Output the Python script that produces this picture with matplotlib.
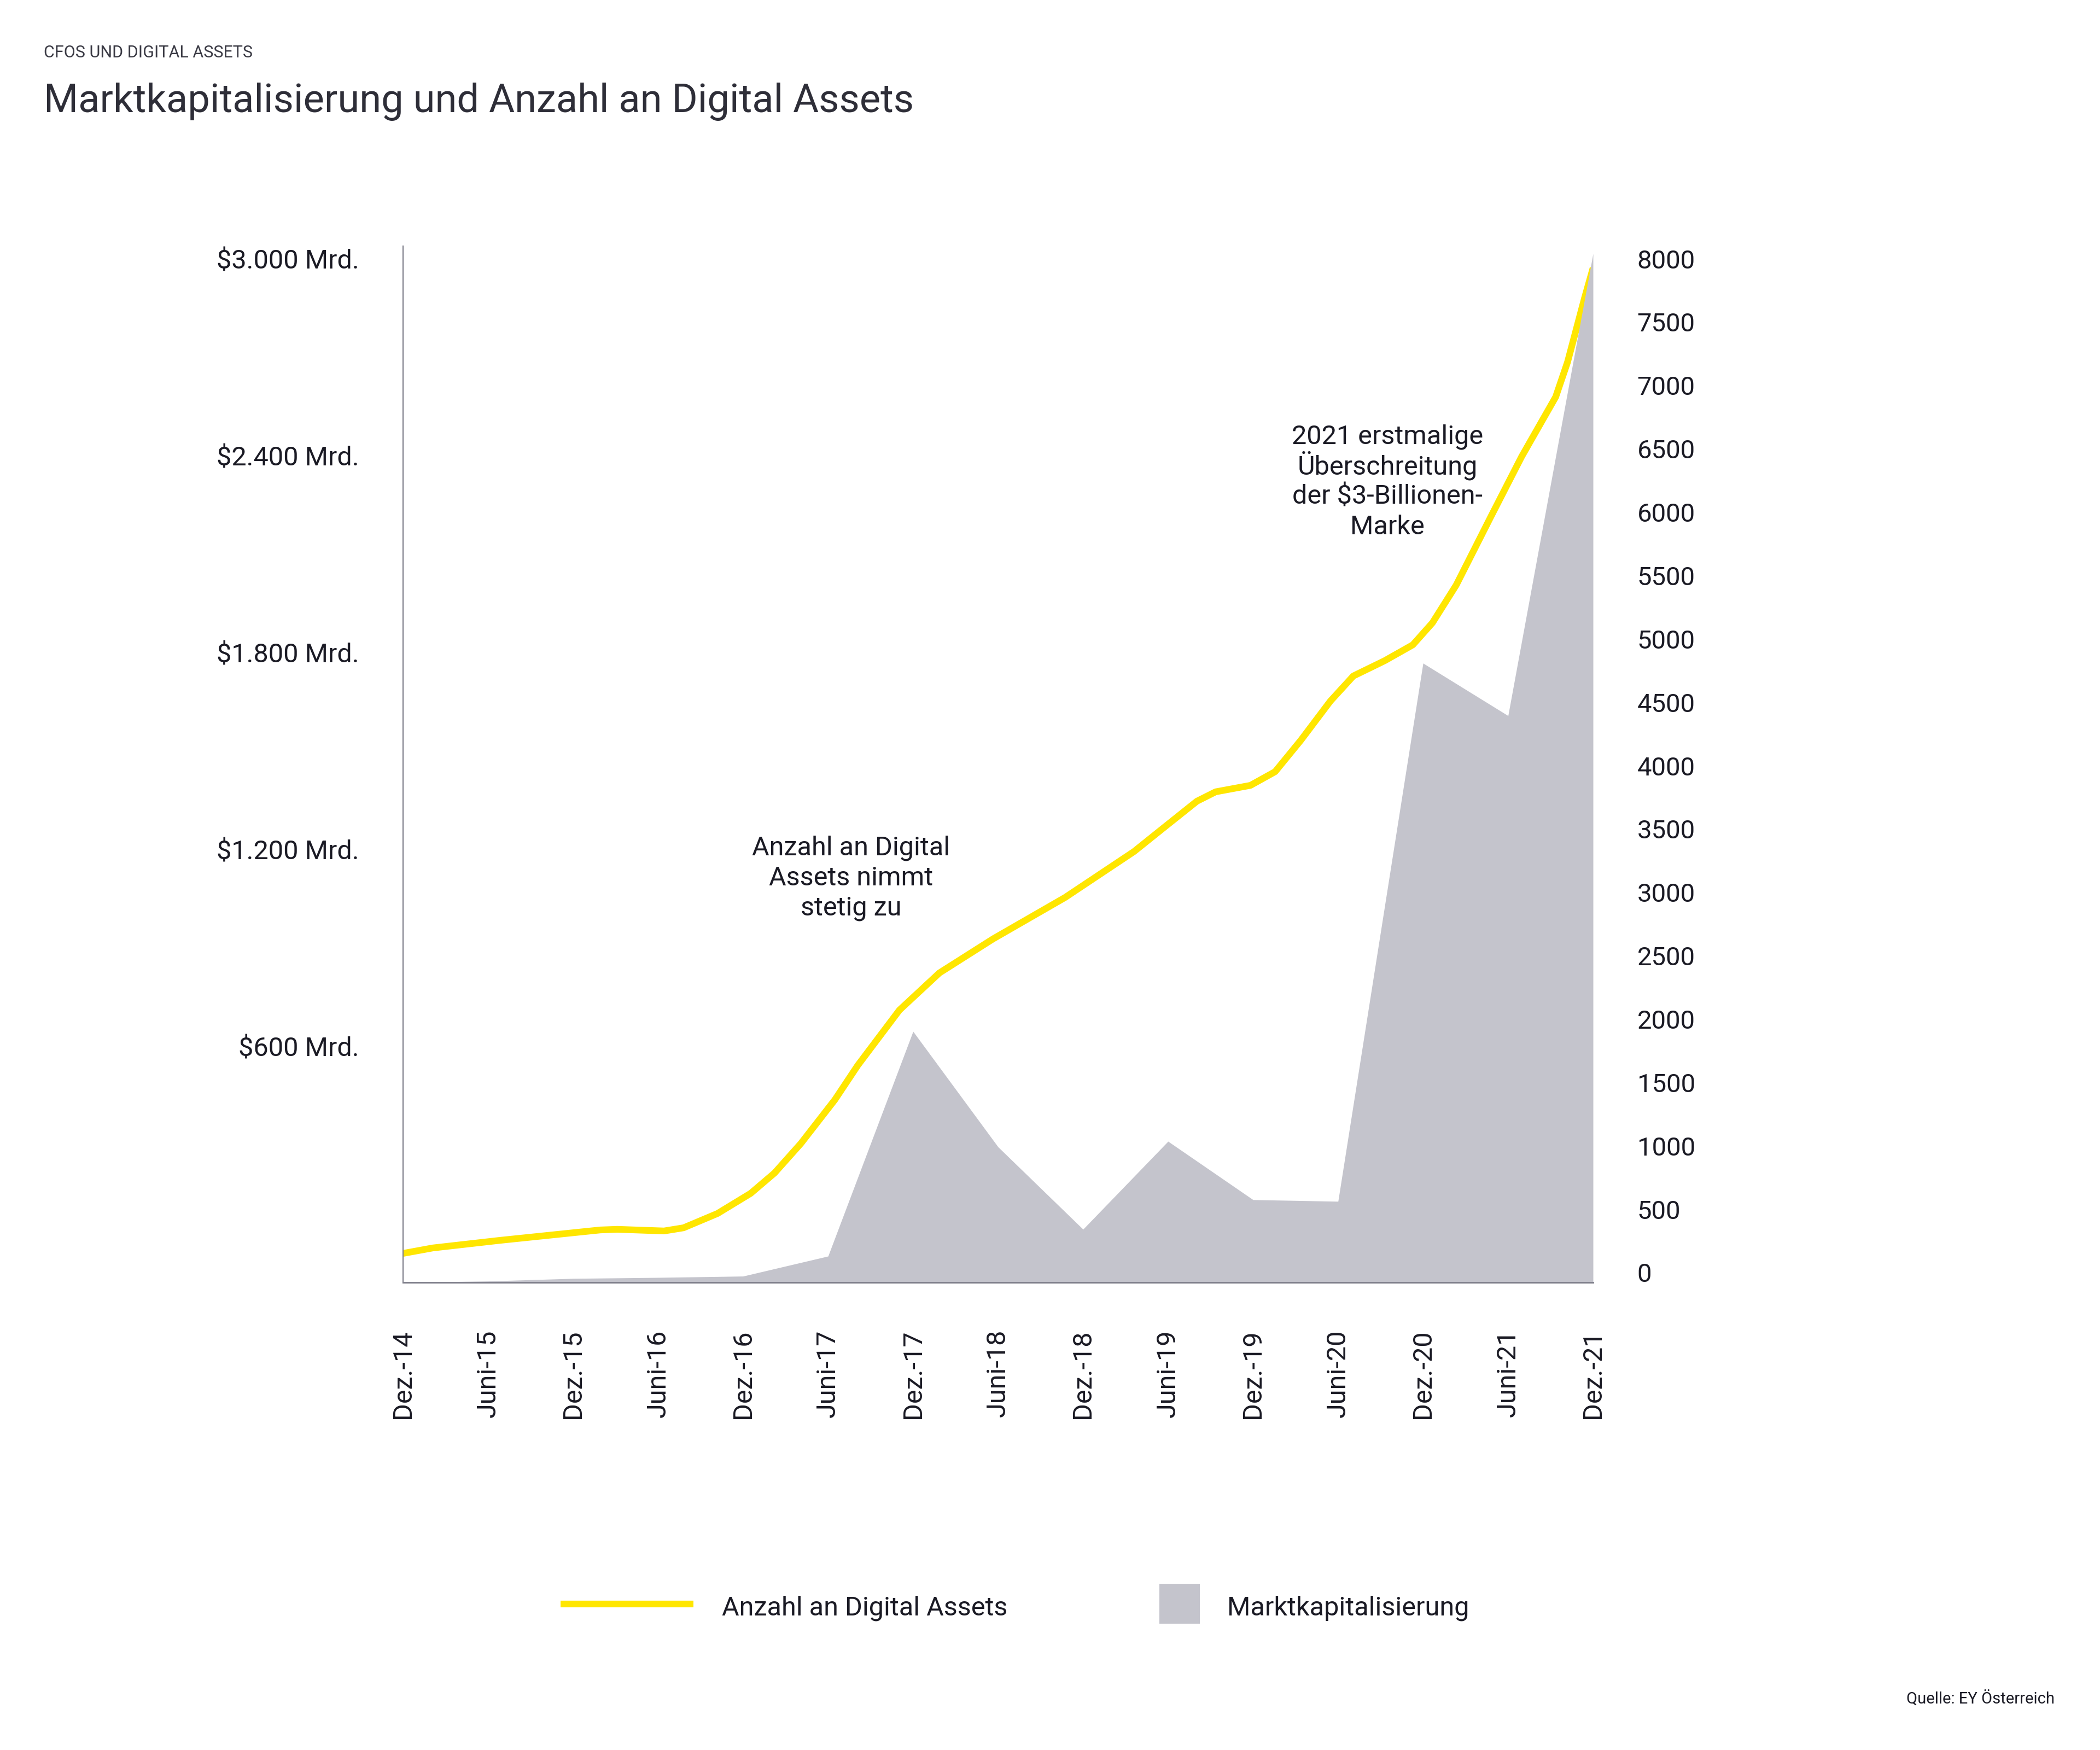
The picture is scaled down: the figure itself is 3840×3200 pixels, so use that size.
import matplotlib
matplotlib.use("Agg")
import matplotlib.pyplot as plt
from matplotlib.lines import Line2D
from matplotlib.patches import Rectangle
from matplotlib.transforms import ScaledTranslation

plt.rcParams['font.family'] = ['Roboto', 'DejaVu Sans']

# half-year categories
periods = ['Dez.-14', 'Juni-15', 'Dez.-15', 'Juni-16', 'Dez.-16', 'Juni-17', 'Dez.-17', 'Juni-18',
           'Dez.-18', 'Juni-19', 'Dez.-19', 'Juni-20', 'Dez.-20', 'Juni-21', 'Dez.-21']

# market cap in Mrd. USD, one value per half year
market_cap = [0, 4, 12, 15, 19, 80, 765, 413, 162, 430, 252, 247, 1887, 1727, 3135]

# number of digital assets (position in half years)
asset_pos = [0.0, 0.35, 1.14, 2.32, 2.52, 3.07, 3.30, 3.70, 4.09, 4.37, 4.68, 5.08, 5.35, 5.84,
             6.31, 6.94, 7.79, 8.60, 8.97, 9.34, 9.56, 9.97, 10.26, 10.56, 10.91, 11.18, 11.55,
             11.88, 12.11, 12.39, 12.80, 13.16, 13.56, 13.70, 13.90, 14.0]
asset_count = [229, 272, 332, 414, 419, 406, 431, 544, 703, 863, 1096, 1441, 1713, 2149,
               2442, 2710, 3038, 3400, 3599, 3797, 3871, 3922, 4030, 4276, 4587, 4785, 4906,
               5031, 5204, 5502, 6045, 6516, 6986, 7262, 7767, 8004]

left_ticks = [600, 1200, 1800, 2400, 3000]
left_labels = ['$600 Mrd.', '$1.200 Mrd.', '$1.800 Mrd.', '$2.400 Mrd.', '$3.000 Mrd.']
right_ticks = list(range(0, 8001, 500))

note_2021 = ['2021 erstmalige', 'Überschreitung', 'der $3-Billionen-', 'Marke']

YELLOW = '#ffe600'
GREY = '#c4c4cc'
SPINE = '#80808c'
TXT = '#1a1a24'
W, H = 3840, 3200

fig = plt.figure(figsize=(19.2, 16), dpi=200)
ax = fig.add_axes([737 / W, 1 - 2345 / H, (2913 - 737) / W, (2345 - 450) / H])
ax2 = ax.twinx()
ax.set_zorder(ax2.get_zorder() + 1)
ax.patch.set_visible(False)

ax2.plot(asset_pos, asset_count, color=YELLOW, lw=4.4, solid_joinstyle='round', solid_capstyle='butt')
ax.fill_between(range(len(periods)), market_cap, 0, color=GREY, lw=0)

ax.set_xlim(0, 14)
ax.set_ylim(0, 3158)
ax2.set_ylim(0, 8177)

ax.set_xticks(range(len(periods)))
ax.set_xticklabels(periods, rotation=90, va='top', ha='center', fontsize=17.5, color=TXT)
ax.set_yticks(left_ticks)
ax.set_yticklabels(left_labels, fontsize=17.5, color=TXT)
ax2.set_yticks(right_ticks)
ax2.set_yticklabels([str(t) for t in right_ticks], fontsize=17, color=TXT)

ax.tick_params(axis='x', length=0, pad=31)
ax.tick_params(axis='y', length=0, pad=29)
ax2.tick_params(axis='y', length=0, pad=29)

# labels sit slightly above their tick positions in the original
for lab in ax.get_yticklabels():
    lab.set_transform(lab.get_transform() + ScaledTranslation(0, 71 / 200, fig.dpi_scale_trans))
for lab in ax2.get_yticklabels():
    lab.set_transform(lab.get_transform() + ScaledTranslation(0, 18 / 200, fig.dpi_scale_trans))

for s in ['top', 'right']:
    ax.spines[s].set_visible(False)
for s in ax2.spines.values():
    s.set_visible(False)
ax.spines['left'].set_color(SPINE)
ax.spines['left'].set_linewidth(0.8)
ax.spines['bottom'].set_color(SPINE)
ax.spines['bottom'].set_linewidth(1.1)

# annotations
fig.text(1556 / W, 1 - 1674 / H, 'Anzahl an Digital\nAssets nimmt\nstetig zu', ha='center',
         va='baseline', fontsize=17.5, color=TXT, linespacing=1.25, multialignment='center')
# one text per line keeps the spacing even despite the umlaut
for i, line in enumerate(note_2021):
    fig.text(2537 / W, 1 - (812 + 55 * i) / H, line, ha='center', va='baseline',
             fontsize=17.5, color=TXT)

# titles
fig.text(80 / W, 1 - 105 / H, 'CFOS UND DIGITAL ASSETS', fontsize=11, color='#3a3a44', va='baseline')
fig.text(80 / W, 1 - 205 / H, 'Marktkapitalisierung und Anzahl an Digital Assets', fontsize=26,
         color='#2e2e38', va='baseline')

# legend
fig.add_artist(Line2D([1025 / W, 1268 / W], [1 - 2933 / H] * 2, transform=fig.transFigure,
                      color=YELLOW, lw=4.4, solid_capstyle='butt'))
fig.text(1320 / W, 1 - 2953 / H, 'Anzahl an Digital Assets', fontsize=17.5, color=TXT, va='baseline')
fig.add_artist(Rectangle((2120 / W, 1 - 2969 / H), 74 / W, 73 / H, transform=fig.transFigure,
                         color=GREY, lw=0))
fig.text(2244 / W, 1 - 2953 / H, 'Marktkapitalisierung', fontsize=17.5, color=TXT, va='baseline')

fig.text(3757 / W, 1 - 3115 / H, 'Quelle: EY Österreich', fontsize=10.5, color=TXT, ha='right', va='baseline')

fig.savefig('out.png', dpi=200, facecolor='white')
